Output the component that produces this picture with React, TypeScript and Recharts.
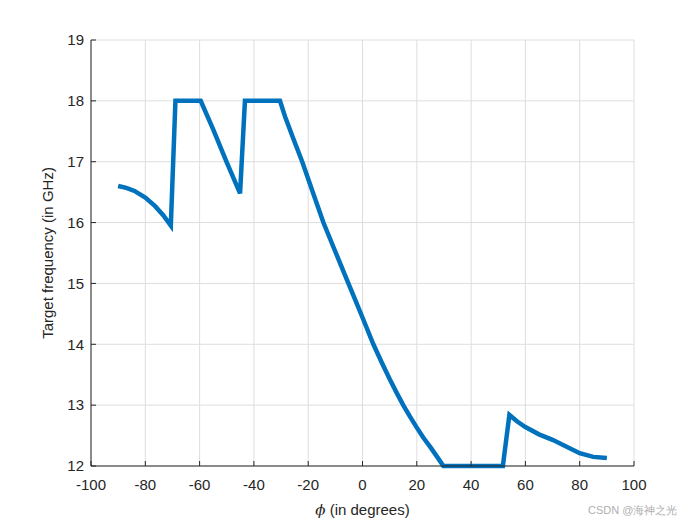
import React from 'react';
import { LineChart, Line, XAxis, YAxis, CartesianGrid } from 'recharts';

const phi = [
  -90, -87, -84, -80, -76.4, -73.4, -70.6, -68.9, -59.6, -55, -50, -45.1, -43.3,
  -30.4, -28.5, -25.5, -22.2, -18.3, -14.4, -9.8, -5.2, -2.6, 0, 4, 7, 10, 12.5, 15, 17.5, 20, 22.5, 25, 27.5, 29.8,
  51.7, 54.1, 57, 60, 65, 70, 75, 80, 85, 90,
];
const freq = [
  16.6, 16.57, 16.52, 16.41, 16.27, 16.12, 15.95, 18, 18, 17.53, 16.99, 16.48, 18,
  18, 17.74, 17.38, 17, 16.5, 16, 15.5, 15, 14.72, 14.44, 14, 13.71, 13.43, 13.21, 13, 12.81, 12.63, 12.46, 12.31, 12.15, 12,
  12, 12.84, 12.73, 12.64, 12.52, 12.43, 12.32, 12.21, 12.15, 12.13,
];
const xTicks = [-100, -80, -60, -40, -20, 0, 20, 40, 60, 80, 100];
const yTicks = [12, 13, 14, 15, 16, 17, 18, 19];

const data = phi.map((p, i) => ({ phi: p, freq: freq[i] }));

const axisColor = '#262626';
const font = '"Liberation Sans", Arial, sans-serif';

const XLabel = (props: any) => {
  const { viewBox } = props;
  const cx = viewBox.x + viewBox.width / 2;
  return (
    <text x={cx} y={viewBox.y + 49} textAnchor="middle" fontSize={15} fill={axisColor} fontFamily={font}>
      <tspan fontStyle="italic" fontFamily="'DejaVu Serif', serif">ϕ</tspan> (in degrees)
    </text>
  );
};

export default function App() {
  return (
    <div style={{ position: 'absolute', left: 0, top: 0, width: 700, height: 525, background: '#fff', fontFamily: font }}>
      <LineChart width={700} height={525} data={data} margin={{ top: 40, right: 66, left: 5, bottom: 0 }}>
        <CartesianGrid stroke="#dedede" strokeWidth={1} />
        <XAxis
          dataKey="phi"
          type="number"
          domain={[-100, 100]}
          ticks={xTicks}
          height={59}
          tickSize={-5}
          tickMargin={18}
          stroke={axisColor}
          tick={{ fill: axisColor, fontSize: 15, fontFamily: font }}
          label={<XLabel />}
        />
        <XAxis
          xAxisId="top"
          orientation="top"
          type="number"
          domain={[-100, 100]}
          ticks={xTicks}
          height={0}
          tickSize={-5}
          tick={false}
          stroke={axisColor}
        />
        <YAxis
          type="number"
          domain={[12, 19]}
          ticks={yTicks}
          width={86}
          tickSize={-5}
          tickMargin={12}
          stroke={axisColor}
          tick={{ fill: axisColor, fontSize: 15, fontFamily: font }}
          label={{ value: 'Target frequency (in GHz)', angle: -90, position: 'center', fill: axisColor, fontSize: 15, fontFamily: font }}
        />
        <YAxis
          yAxisId="right"
          orientation="right"
          type="number"
          domain={[12, 19]}
          ticks={yTicks}
          width={0}
          tickSize={-5}
          tick={false}
          stroke={axisColor}
        />
        <Line
          type="linear"
          dataKey="freq"
          stroke="#0072BD"
          strokeWidth={4.5}
          dot={false}
          isAnimationActive={false}
        />
      </LineChart>
      <div style={{ position: 'absolute', left: 588, top: 503, fontSize: 11, color: '#b0b0b0', fontFamily: font }}>
        CSDN @海神之光
      </div>
    </div>
  );
}
